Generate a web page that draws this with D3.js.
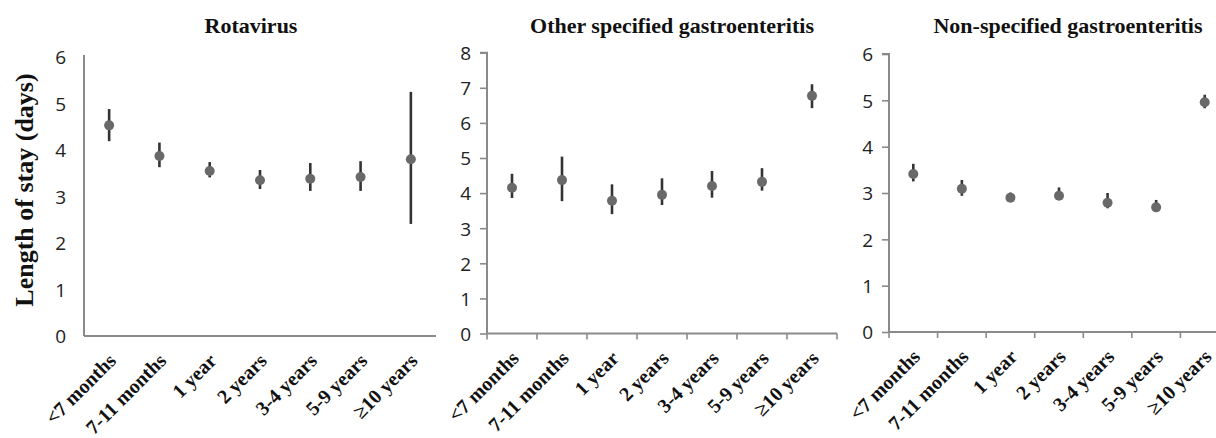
<!DOCTYPE html>
<html>
<head>
<meta charset="utf-8">
<script src="https://cdn.jsdelivr.net/npm/d3@7"></script>
<style>
	body { margin: 0; background: #fff; }
	svg { display: block; }
	.title { font-family: "Liberation Serif", "Times New Roman", serif; font-weight: bold; font-size: 22px; fill: #111; }
	.ytitle { font-family: "Liberation Serif", "Times New Roman", serif; font-weight: bold; font-size: 26px; fill: #111; }
	.xlab { font-family: "Liberation Serif", "Times New Roman", serif; font-weight: bold; font-size: 20px; fill: #111; }
	.ylab { font-family: "Open Sans", sans-serif; font-size: 19px; fill: #222; }
</style>
</head>
<body>
<div class="chart"></div>
<script>

const categories = ["<7 months", "7-11 months", "1 year", "2 years", "3-4 years", "5-9 years", "≥10 years"];

// Rotavirus
const rotaMean = [4.53, 3.87, 3.55, 3.35, 3.38, 3.42, 3.80];
const rotaLow  = [4.19, 3.63, 3.41, 3.16, 3.12, 3.12, 2.41];
const rotaHigh = [4.88, 4.16, 3.74, 3.57, 3.72, 3.76, 5.25];

// Other specified gastroenteritis
const otherMean = [4.15, 4.37, 3.78, 3.95, 4.20, 4.32, 6.77];
const otherLow  = [3.86, 3.77, 3.40, 3.66, 3.87, 4.07, 6.42];
const otherHigh = [4.55, 5.04, 4.25, 4.42, 4.63, 4.71, 7.10];

// Non-specified gastroenteritis
const nonMean = [3.41, 3.09, 2.90, 2.94, 2.79, 2.69, 4.96];
const nonLow  = [3.25, 2.94, 2.82, 2.85, 2.67, 2.62, 4.83];
const nonHigh = [3.63, 3.28, 3.01, 3.12, 3.00, 2.85, 5.12];

const titles = ["Rotavirus", "Other specified gastroenteritis", "Non-specified gastroenteritis"];
const yMax = [6, 8, 6];

const width = 1216;
const height = 438;

const svg = d3.select(".chart").append("svg")
	.attr("width", width)
	.attr("height", height);

// pixel frames of the three panels
const frames = [
	{ x0: 84,  x1: 436,  y0: 336,   y1: 57,   ticks: false, titleX: 251 },
	{ x0: 487, x1: 837,  y0: 333.5, y1: 52.7, ticks: true,  titleX: 672 },
	{ x0: 889, x1: 1229, y0: 332,   y1: 54,   ticks: true,  titleX: 1068 }
];

const series = [
	{ mean: rotaMean, low: rotaLow, high: rotaHigh },
	{ mean: otherMean, low: otherLow, high: otherHigh },
	{ mean: nonMean, low: nonLow, high: nonHigh }
];

const axisColor = "#8a8a8a";

frames.forEach((f, p) => {
	const x = d3.scaleBand().domain(categories).range([f.x0, f.x1]).padding(0);
	const y = d3.scaleLinear().domain([0, yMax[p]]).range([f.y0, f.y1]);

	const g = svg.append("g");

	// y axis
	const yAxis = d3.axisLeft(y)
		.ticks(yMax[p])
		.tickSize(f.ticks ? 7 : 0)
		.tickPadding(f.ticks ? 9 : 18);
	const ya = g.append("g")
		.attr("transform", `translate(${f.x0},0)`)
		.call(yAxis);
	ya.select(".domain").attr("stroke", axisColor).attr("stroke-width", 2)
		.attr("d", f.ticks ? `M-7,${f.y1}H0V${f.y0}` : `M0,${f.y1 - 2}V${f.y0}`);
	ya.selectAll(".tick line").attr("stroke", axisColor).attr("stroke-width", 1.6);
	ya.selectAll(".tick text").attr("class", "ylab").attr("font-size", null).attr("font-family", null)
		.attr("fill", null).attr("dy", "0.36em");

	// x axis
	const xAxis = d3.axisBottom(x).tickSize(0).tickFormat("");
	const xa = g.append("g")
		.attr("transform", `translate(0,${f.y0})`)
		.call(xAxis);
	xa.selectAll(".tick").remove();
	xa.select(".domain").attr("stroke", axisColor).attr("stroke-width", 2)
		.attr("d", `M${f.x0},0H${f.x1}`);
	if (f.ticks) {
		xa.selectAll(".bt")
			.data(d3.range(categories.length + 1))
			.enter().append("line")
				.attr("class", "bt")
				.attr("x1", (i) => f.x0 + i * x.step())
				.attr("x2", (i) => f.x0 + i * x.step())
				.attr("y1", 0).attr("y2", 6)
				.attr("stroke", axisColor).attr("stroke-width", 1.6);
	}

	// rotated category labels
	g.selectAll(".xlab")
		.data(categories).enter()
		.append("text")
			.attr("class", "xlab")
			.attr("text-anchor", "end")
			.attr("transform", (d) => `translate(${x(d) + x.bandwidth() / 2 + 8},${f.y0 + 26}) rotate(-45)`)
			.text((d) => d);

	// error bars and points
	const s = series[p];
	const rows = categories.map((c, i) => ({ c: c, mean: s.mean[i], low: s.low[i], high: s.high[i] }));

	g.selectAll(".err")
		.data(rows).enter()
		.append("line")
			.attr("class", "err")
			.attr("x1", (d) => x(d.c) + x.bandwidth() / 2)
			.attr("x2", (d) => x(d.c) + x.bandwidth() / 2)
			.attr("y1", (d) => y(d.low))
			.attr("y2", (d) => y(d.high))
			.attr("stroke", "#333")
			.attr("stroke-width", 2.6);

	g.selectAll(".pt")
		.data(rows).enter()
		.append("circle")
			.attr("class", "pt")
			.attr("cx", (d) => x(d.c) + x.bandwidth() / 2)
			.attr("cy", (d) => y(d.mean))
			.attr("r", 5)
			.attr("fill", "#696969");

	// panel title
	svg.append("text")
		.attr("class", "title")
		.attr("x", f.titleX)
		.attr("y", 33)
		.attr("text-anchor", "middle")
		.text(titles[p]);
});

svg.append("text")
	.attr("class", "ytitle")
	.attr("text-anchor", "middle")
	.attr("transform", "translate(33,190) rotate(-90)")
	.text("Length of stay (days)");

</script>
</body>
</html>
